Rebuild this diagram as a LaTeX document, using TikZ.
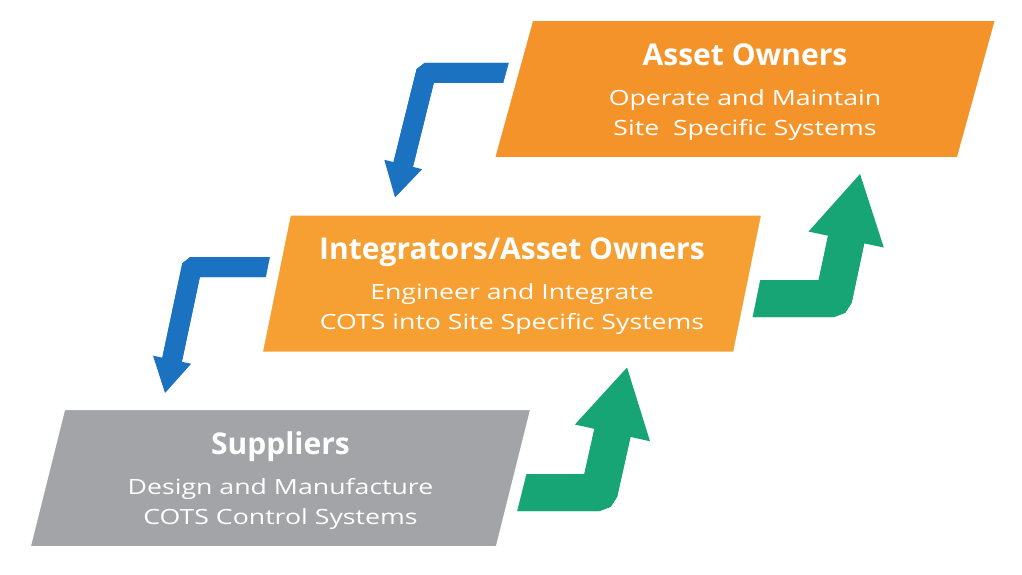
\documentclass[tikz,border=0pt]{standalone}
\usepackage{fontspec}
\setmainfont{Open Sans}
\newfontfamily\subfont{Open Sans}[FakeStretch=1.27]
\usepackage{tikz}
\usetikzlibrary{arrows.meta,positioning,calc,shapes.geometric,backgrounds}
\definecolor{ownorange}{HTML}{F4932A}
\definecolor{intorange}{HTML}{F6A034}
\definecolor{supgrey}{HTML}{A3A4A7}
\definecolor{upgreen}{HTML}{17A575}
\definecolor{downblue}{HTML}{1A72C0}
\tikzset{
  panel/.style={trapezium, trapezium left angle=76, trapezium right angle=104, trapezium stretches=true,
    minimum width=516pt, minimum height=148pt, draw=white, line width=12pt, outer sep=0pt,
    text=white, align=center, inner sep=0pt, font=\subfont\fontsize{21}{30}\selectfont},
  uparrow/.style={draw=upgreen, line width=37pt, rounded corners=3pt,
    -{Triangle[length=67pt,width=77pt,line width=0pt]}, postaction={draw=upgreen, -, shorten >=55pt}},
  downarrow/.style={draw=downblue, line width=20pt, rounded corners=2pt,
    -{Triangle[length=34pt,width=39pt,line width=0pt]}, postaction={draw=downblue, -, shorten >=28pt}}
}
\newcommand{\ttlline}[1]{{\rmfamily\bfseries\fontsize{30}{30}\selectfont\rule{0pt}{28pt}#1}\\[10pt]}
\begin{document}
\begin{tikzpicture}[x=1pt,y=-1pt]
\useasboundingbox (0,0) rectangle (1022,575);
\node[panel, fill=ownorange] (own) at (745,89) {\ttlline{Asset Owners}Operate and Maintain\\Site\ \ Specific Systems};
\node[panel, fill=intorange] (integ) at (512,283.5) {\ttlline{Integrators/Asset Owners}Engineer and Integrate\\COTS into Site Specific Systems};
\node[panel, fill=supgrey] (sup) at (280.5,478) {\ttlline{Suppliers}Design and Manufacture\\COTS Control Systems};
\begin{scope}[on background layer]
% up: suppliers -> integrators -> owners
\draw[uparrow] ([xshift=-30pt,yshift=-14.5pt]sup.east) -- ++(110,0) -- ([xshift=115pt,yshift=-10pt]integ.south);
\draw[uparrow] ([xshift=-30pt,yshift=-15pt]integ.east) -- ++(110.4,0) -- ([xshift=115pt,yshift=-11pt]own.south);
% down: owners -> integrators -> suppliers
\draw[downarrow] ([xshift=30pt,yshift=16pt]own.west) -- ++(-112,0) -- ([xshift=-117pt,yshift=12pt]integ.north);
\draw[downarrow] ([xshift=30pt,yshift=16.5pt]integ.west) -- ++(-109,0) -- ([xshift=-115.5pt,yshift=11pt]sup.north);
\end{scope}
\end{tikzpicture}
\end{document}
